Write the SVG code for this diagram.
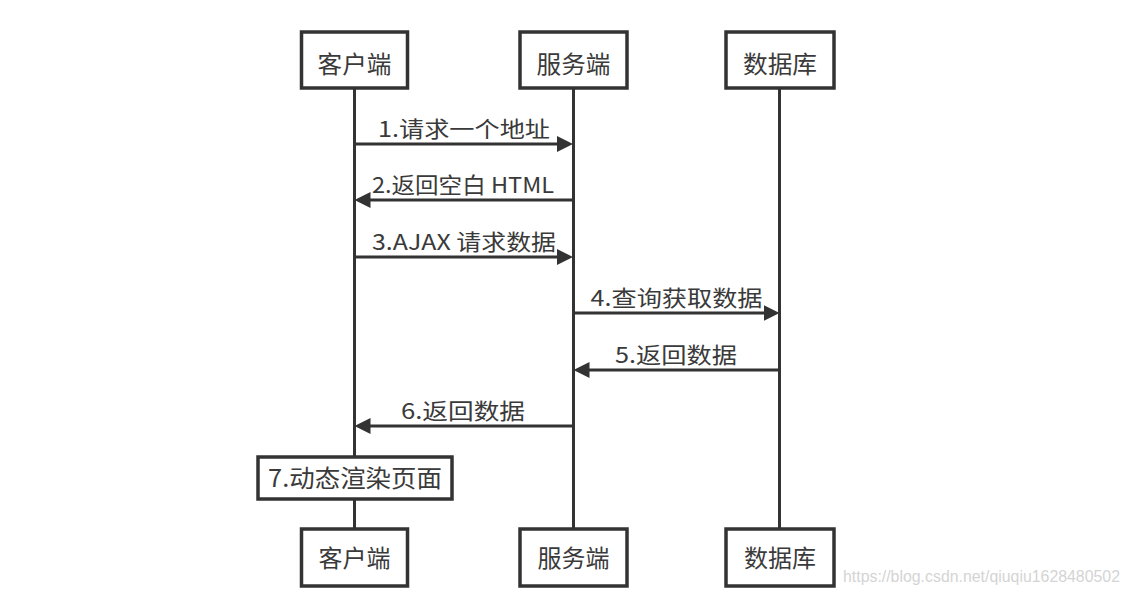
<svg xmlns="http://www.w3.org/2000/svg" width="1130" height="597" viewBox="0 0 1130 597">
<style>
.box{fill:#fff;stroke:#333;stroke-width:3.5}
.life{stroke:#333;stroke-width:3;fill:none}
.msg{stroke:#333;stroke-width:3;fill:none}
.t{font-family:"Noto Sans CJK SC","Liberation Sans",sans-serif;fill:#3a3a3a}
.bl{font-size:24px;text-anchor:middle}
.lb{font-size:22px;text-anchor:middle}
.wm{font-family:"Liberation Sans",Arial,sans-serif;font-size:16px;fill:#d4d4d4}
</style>
<defs>
<marker id="ah" viewBox="0 0 16 16" refX="6" refY="8" markerWidth="16" markerHeight="16" markerUnits="userSpaceOnUse" orient="auto">
<path d="M0,0 L16,8 L0,16 z" fill="#333"/>
</marker>
</defs>
<rect width="1130" height="597" fill="#fff"/>
<g id="lifelines">
<line class="life" x1="354.5" y1="88" x2="354.5" y2="529"/>
<line class="life" x1="573.5" y1="88" x2="573.5" y2="529"/>
<line class="life" x1="779.5" y1="88" x2="779.5" y2="529"/>
</g>
<g id="client-top"><rect class="box" x="301.5" y="32" width="106" height="56"/><text class="t bl" x="354.5" y="73" textLength="74" lengthAdjust="spacingAndGlyphs">客户端</text></g>
<g id="server-top"><rect class="box" x="520" y="32" width="107" height="56"/><text class="t bl" x="573.5" y="73" textLength="74" lengthAdjust="spacingAndGlyphs">服务端</text></g>
<g id="db-top"><rect class="box" x="726" y="32" width="108" height="56"/><text class="t bl" x="780" y="73" textLength="74" lengthAdjust="spacingAndGlyphs">数据库</text></g>
<g id="connectors">
<line class="msg" x1="356" y1="144" x2="563" y2="144" marker-end="url(#ah)"/>
<line class="msg" x1="572" y1="200" x2="364.5" y2="200" marker-end="url(#ah)"/>
<line class="msg" x1="356" y1="257" x2="563" y2="257" marker-end="url(#ah)"/>
<line class="msg" x1="575" y1="313" x2="769.5" y2="313" marker-end="url(#ah)"/>
<line class="msg" x1="778" y1="370" x2="583.5" y2="370" marker-end="url(#ah)"/>
<line class="msg" x1="572" y1="426" x2="364.5" y2="426" marker-end="url(#ah)"/>
<text class="t lb" x="464" y="137" textLength="172" lengthAdjust="spacingAndGlyphs">1.请求一个地址</text>
<text class="t lb" x="463" y="193" textLength="182" lengthAdjust="spacingAndGlyphs">2.返回空白 HTML</text>
<text class="t lb" x="464" y="250" textLength="184" lengthAdjust="spacingAndGlyphs">3.AJAX 请求数据</text>
<text class="t lb" x="676.5" y="306" textLength="172" lengthAdjust="spacingAndGlyphs">4.查询获取数据</text>
<text class="t lb" x="676" y="363" textLength="122" lengthAdjust="spacingAndGlyphs">5.返回数据</text>
<text class="t lb" x="463" y="419" textLength="124" lengthAdjust="spacingAndGlyphs">6.返回数据</text>
</g>
<g id="render"><rect class="box" x="258" y="457" width="194" height="42"/><text class="t bl" x="355" y="487" textLength="174" lengthAdjust="spacingAndGlyphs">7.动态渲染页面</text></g>
<g id="client-bottom"><rect class="box" x="301.5" y="529" width="106" height="57"/><text class="t bl" x="354.5" y="567" textLength="72" lengthAdjust="spacingAndGlyphs">客户端</text></g>
<g id="server-bottom"><rect class="box" x="520" y="529" width="107" height="57"/><text class="t bl" x="573.5" y="567" textLength="72" lengthAdjust="spacingAndGlyphs">服务端</text></g>
<g id="db-bottom"><rect class="box" x="726" y="529" width="108" height="57"/><text class="t bl" x="780" y="567" textLength="72" lengthAdjust="spacingAndGlyphs">数据库</text></g>
<text class="wm" x="843" y="582" textLength="277" lengthAdjust="spacingAndGlyphs">https://blog.csdn.net/qiuqiu1628480502</text>
</svg>
